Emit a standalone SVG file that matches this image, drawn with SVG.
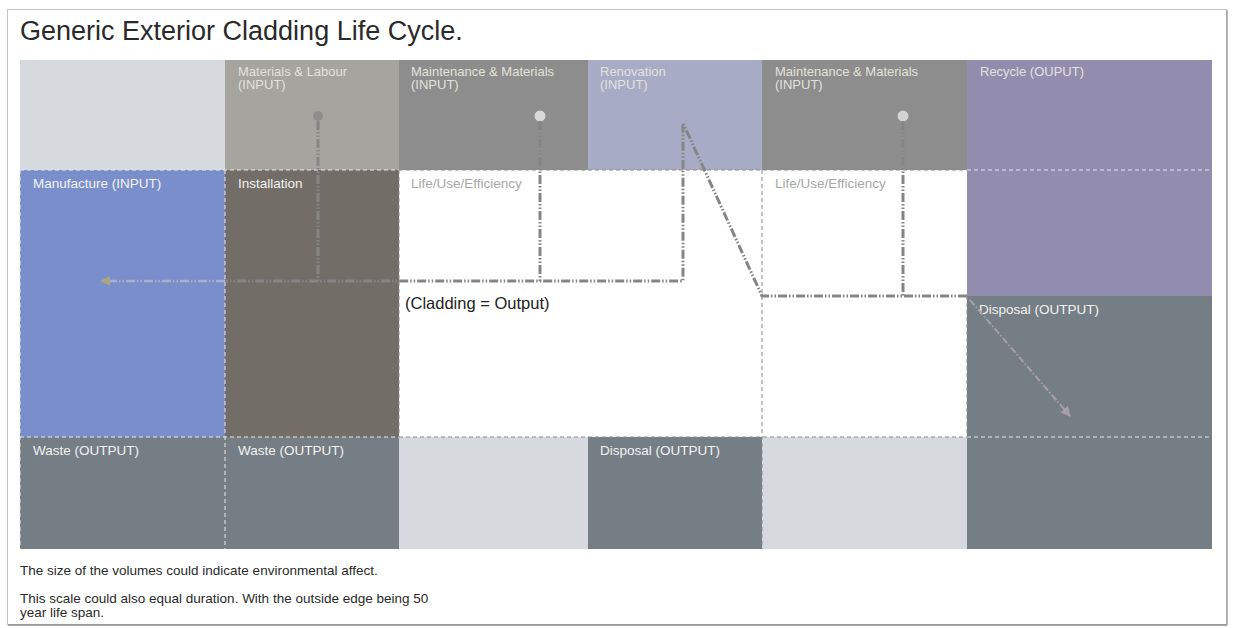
<svg xmlns="http://www.w3.org/2000/svg" width="1235" height="628" viewBox="0 0 1235 628">
  <style>
    .title { font-family: "Liberation Sans", Arial, sans-serif; font-size: 27px; fill: #2a2a2a; }
    .lbl { font-family: "Liberation Sans", Arial, sans-serif; font-size: 13.5px; fill: #f2f2f2; }
    .lbl-faint { font-family: "Liberation Sans", Arial, sans-serif; font-size: 13px; fill: #e2e2dc; }
    .lbl-grey { font-family: "Liberation Sans", Arial, sans-serif; font-size: 13.5px; fill: #a8a8a8; }
    .note { font-family: "Liberation Sans", Arial, sans-serif; font-size: 13.5px; fill: #2a2a2a; }
    .cap { font-family: "Liberation Sans", Arial, sans-serif; font-size: 16.5px; fill: #222; }
    .sep-light { stroke: #e8e8ea; stroke-width: 1; stroke-dasharray: 4 3; fill: none; }
    .sep-dark { stroke: #8a8a8a; stroke-width: 1; stroke-dasharray: 4 3; fill: none; }
    .flow { stroke: #858585; stroke-width: 3; stroke-dasharray: 9 2 1.5 2 1.5 2; fill: none; }
    .flow-faint { stroke: #a9b0cf; stroke-width: 2.5; stroke-dasharray: 9 2 1.5 2 1.5 2; fill: none; }
  </style>
  <defs>
    <marker id="headLeft" viewBox="0 0 10 10" refX="2" refY="5" markerWidth="4" markerHeight="4" orient="auto">
      <path d="M0,0 L10,5 L0,10 z" fill="#a9a684"/>
    </marker>
    <marker id="headLight" viewBox="0 0 10 10" refX="9" refY="5" markerWidth="5" markerHeight="5" orient="auto">
      <path d="M0,0 L10,5 L0,10 z" fill="#a7a0a6"/>
    </marker>
  </defs>

  <!-- page frame -->
  <rect x="0" y="0" width="1235" height="628" fill="#ffffff"/>
  <rect x="7.5" y="9.5" width="1219" height="615" fill="#ffffff" stroke="#c4c4c4" stroke-width="1"/>
  <line x1="8" y1="625" x2="1227" y2="625" stroke="#8e8e8e" stroke-width="1.5"/>
  <line x1="1227" y1="10" x2="1227" y2="625" stroke="#a0a0a0" stroke-width="1.5"/>

  <text class="title" x="20" y="40">Generic Exterior Cladding Life Cycle.</text>

  <!-- top row: inputs -->
  <g id="blank-top-1"><rect x="20" y="60" width="205" height="110" fill="#d6d9dd"/></g>
  <g id="materials-labour">
    <rect x="225" y="60" width="174" height="110" fill="#a5a49f"/>
    <text class="lbl-faint" x="238" y="76">Materials &amp; Labour</text>
    <text class="lbl-faint" x="238" y="89">(INPUT)</text>
  </g>
  <g id="maintenance-1">
    <rect x="399" y="60" width="189" height="110" fill="#8d8d8d"/>
    <text class="lbl-faint" x="411" y="76">Maintenance &amp; Materials</text>
    <text class="lbl-faint" x="411" y="89">(INPUT)</text>
  </g>
  <g id="renovation">
    <rect x="588" y="60" width="174" height="110" fill="#a8abc6"/>
    <text class="lbl-faint" x="600" y="76">Renovation</text>
    <text class="lbl-faint" x="600" y="89">(INPUT)</text>
  </g>
  <g id="maintenance-2">
    <rect x="762" y="60" width="205" height="110" fill="#8d8d8d"/>
    <text class="lbl-faint" x="775" y="76">Maintenance &amp; Materials</text>
    <text class="lbl-faint" x="775" y="89">(INPUT)</text>
  </g>
  <g id="recycle">
    <rect x="967" y="60" width="245" height="236" fill="#928cae"/>
    <text class="lbl-faint" x="980" y="76">Recycle (OUPUT)</text>
  </g>

  <!-- middle row: processes -->
  <g id="manufacture">
    <rect x="20" y="170" width="205" height="267" fill="#7a8ecb"/>
    <text class="lbl" x="33" y="188">Manufacture (INPUT)</text>
  </g>
  <g id="installation">
    <rect x="225" y="170" width="174" height="267" fill="#736d67"/>
    <text class="lbl" x="238" y="188">Installation</text>
  </g>
  <g id="life-1">
    <rect x="399" y="170" width="363" height="267" fill="#ffffff"/>
    <text class="lbl-grey" x="411" y="188">Life/Use/Efficiency</text>
    <text class="cap" x="405" y="309">(Cladding = Output)</text>
  </g>
  <g id="life-2">
    <rect x="762" y="170" width="205" height="267" fill="#ffffff"/>
    <text class="lbl-grey" x="775" y="188">Life/Use/Efficiency</text>
  </g>
  <g id="disposal-right">
    <rect x="967" y="296" width="245" height="141" fill="#757e84"/>
    <text class="lbl" x="979" y="314">Disposal (OUTPUT)</text>
  </g>

  <!-- bottom row: outputs -->
  <g id="waste-1">
    <rect x="20" y="437" width="205" height="112" fill="#757e84"/>
    <text class="lbl" x="33" y="455">Waste (OUTPUT)</text>
  </g>
  <g id="waste-2">
    <rect x="225" y="437" width="174" height="112" fill="#757e84"/>
    <text class="lbl" x="238" y="455">Waste (OUTPUT)</text>
  </g>
  <g id="blank-bottom-1"><rect x="399" y="437" width="189" height="112" fill="#d6d9dd"/></g>
  <g id="disposal-mid">
    <rect x="588" y="437" width="174" height="112" fill="#757e84"/>
    <text class="lbl" x="600" y="455">Disposal (OUTPUT)</text>
  </g>
  <g id="blank-bottom-2"><rect x="762" y="437" width="205" height="112" fill="#d6d9dd"/></g>
  <g id="output-right"><rect x="967" y="437" width="245" height="112" fill="#757e84"/></g>

  <!-- dashed cell boundaries -->
  <g id="boundaries">
    <line class="sep-light" x1="20" y1="170" x2="399" y2="170"/>
    <line class="sep-dark" x1="399" y1="170" x2="967" y2="170"/>
    <line class="sep-light" x1="967" y1="170" x2="1212" y2="170"/>
    <line class="sep-light" x1="20" y1="437" x2="399" y2="437"/>
    <line class="sep-dark" x1="399" y1="437" x2="967" y2="437"/>
    <line class="sep-light" x1="967" y1="437" x2="1212" y2="437"/>
    <line class="sep-light" x1="225" y1="170" x2="225" y2="549"/>
    <line class="sep-dark" x1="399" y1="170" x2="399" y2="437"/>
    <line class="sep-dark" x1="762" y1="170" x2="762" y2="549"/>
    <line class="sep-dark" x1="967" y1="296" x2="967" y2="437"/>
    <line class="sep-light" x1="20" y1="170" x2="20" y2="549"/>
  </g>

  <!-- flow connectors -->
  <g id="connectors">
    <circle cx="318" cy="116" r="5" fill="#8e8e8a"/>
    <circle cx="540" cy="116" r="5.5" fill="#d8d8d8"/>
    <circle cx="903" cy="116" r="5.5" fill="#d2d2d2"/>
    <path class="flow" d="M318,121 L318,281"/>
    <path class="flow" d="M540,121 L540,281"/>
    <path class="flow" d="M903,121 L903,296"/>
    <path class="flow" d="M967,296 L762,296 L683,123 L683,281 L225,281"/>
    <path class="flow-faint" d="M225,281 L108,281" marker-end="url(#headLeft)"/>
    <path d="M970,300 L1070,416" stroke="#a7a0a6" stroke-width="2" stroke-dasharray="7 2 1.5 2" fill="none" marker-end="url(#headLight)"/>
  </g>

  <!-- notes -->
  <text class="note" x="20" y="575">The size of the volumes could indicate environmental affect.</text>
  <text class="note" x="20" y="603">This scale could also equal duration. With the outside edge being 50</text>
  <text class="note" x="20" y="617">year life span.</text>
</svg>
